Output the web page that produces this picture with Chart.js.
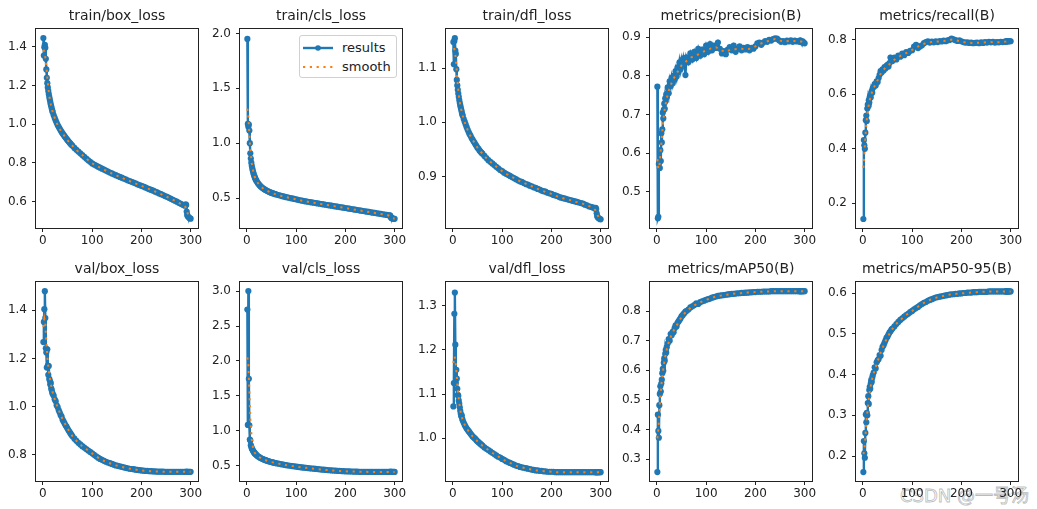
<!DOCTYPE html>
<html>
<head>
<meta charset="utf-8">
<script src="https://cdn.jsdelivr.net/npm/chart.js@4.4.1/dist/chart.umd.min.js"></script>
<style>
  body { margin: 0; background: #fff; width: 1037px; height: 509px; overflow: hidden; position: relative; font-family: "DejaVu Sans", sans-serif; }
  canvas { position: absolute; }
  .legend { position: absolute; box-sizing: border-box; width: 98px; height: 43px; border: 1px solid #d0d0d0; border-radius: 3px; background: rgba(255,255,255,0.85); }
  .legend .row { position: absolute; left: 0; height: 14px; width: 96px; }
  .legend svg { position: absolute; left: 3px; top: 3px; }
  .legend span { position: absolute; left: 42px; top: -1px; font-size: 13px; color: #222; line-height: 16px; }
  .wm { position: absolute; left: 900px; top: 481px; font-size: 18px; font-family: "DejaVu Sans", "Noto Sans CJK SC", sans-serif; color: rgba(255,255,255,0.4); -webkit-text-stroke: 0.8px rgba(140,140,140,0.6); white-space: nowrap; }
</style>
</head>
<body>
<div class="legend" style="left:299px;top:35px">
  <div class="row" style="top:5px">
    <svg width="30" height="8"><line x1="0" y1="4" x2="30" y2="4" stroke="#1f77b4" stroke-width="2.4"/><circle cx="15" cy="4" r="2.8" fill="#1f77b4"/></svg>
    <span>results</span>
  </div>
  <div class="row" style="top:24px">
    <svg width="30" height="8"><line x1="0" y1="4" x2="30" y2="4" stroke="#ff7f0e" stroke-width="2.2" stroke-dasharray="2.2 4.6"/></svg>
    <span>smooth</span>
  </div>
</div>
<div class="wm">CSDN @一号汤</div>
<script>
const FONT = '"DejaVu Sans", sans-serif';

// epochs that carry a results point (dense at the start, sparser later)
const epochs = [
  1,2,3,4,5,6,7,8,9,10,11,12,13,14,15,16,17,18,19,20,
  22,24,26,28,30,32,34,36,38,40,42,44,46,48,50,52,54,56,58,60,
  64,68,72,76,80,84,88,92,96,100,104,108,112,116,120,124,128,132,136,140,
  144,148,152,156,160,164,168,172,176,180,184,188,192,196,200,204,208,212,216,220,
  224,228,232,236,240,244,248,252,256,260,264,268,272,276,280,284,288,
  290,291,292,293,294,296,298,300
];
const smoothEpochs = [1,3,5,7,10,13,16,20,25,30,35,40,50,60,70,80,90,100,110,120,130,140,150,160,170,180,190,200,210,220,230,240,250,260,270,280,285,290,293,296,300];
const xTicks = [0, 100, 200, 300];

const titles = ['train/box_loss', 'train/cls_loss', 'train/dfl_loss', 'metrics/precision(B)', 'metrics/recall(B)',
  'val/box_loss', 'val/cls_loss', 'val/dfl_loss', 'metrics/mAP50(B)', 'metrics/mAP50-95(B)'];

const trainBox = [
  1.445,1.355,1.398,1.410,1.395,1.338,1.283,1.240,1.212,1.190,1.172,1.156,1.141,1.128,1.115,1.103,1.092,1.081,1.071,1.062,
  1.046,1.032,1.019,1.007,0.995,0.986,0.977,0.968,0.960,0.952,0.945,0.938,0.931,0.924,0.917,0.911,0.905,0.899,0.893,0.888,
  0.877,0.867,0.858,0.849,0.840,0.831,0.822,0.813,0.805,0.797,0.791,0.786,0.780,0.775,0.770,0.765,0.760,0.755,0.750,0.745,
  0.741,0.736,0.732,0.727,0.723,0.719,0.715,0.710,0.706,0.702,0.698,0.694,0.689,0.685,0.681,0.677,0.673,0.668,0.664,0.660,
  0.656,0.651,0.647,0.642,0.638,0.633,0.628,0.624,0.619,0.614,0.609,0.604,0.599,0.593,0.588,0.583,0.578,
  0.585,0.582,0.548,0.532,0.524,0.518,0.514,0.511
];
const trainBoxSmooth = [1.385,1.375,1.345,1.300,1.215,1.145,1.103,1.062,1.025,0.995,0.972,0.952,
  0.917,0.888,0.862,0.840,0.818,0.797,0.783,0.770,0.757,0.745,0.734,0.723,0.712,0.702,0.691,0.681,0.670,0.660,0.649,0.638,0.626,0.614,0.601,0.588,
  0.582,0.570,0.545,0.527,0.518];

const trainCls = [
  1.950,1.175,1.150,1.170,1.115,1.000,0.908,0.860,0.822,0.793,0.770,0.750,0.732,0.716,0.702,0.690,0.679,0.669,0.660,0.652,
  0.638,0.626,0.615,0.606,0.598,0.591,0.584,0.578,0.573,0.568,0.563,0.559,0.555,0.551,0.547,0.544,0.541,0.538,0.535,0.532,
  0.527,0.522,0.517,0.512,0.508,0.504,0.500,0.496,0.492,0.488,0.484,0.480,0.476,0.472,0.469,0.466,0.463,0.460,0.457,0.454,
  0.451,0.448,0.445,0.442,0.439,0.436,0.433,0.430,0.427,0.424,0.421,0.418,0.415,0.412,0.409,0.406,0.403,0.400,0.397,0.394,
  0.391,0.388,0.385,0.382,0.379,0.376,0.373,0.370,0.367,0.364,0.361,0.358,0.355,0.352,0.349,0.346,0.343,
  0.342,0.341,0.328,0.320,0.316,0.313,0.312,0.311
];
const trainClsSmooth = [1.315,1.240,1.090,0.945,0.815,0.738,0.692,0.653,0.620,0.598,0.581,0.568,
  0.547,0.532,0.519,0.508,0.498,0.488,0.478,0.469,0.461,0.454,0.446,0.439,0.431,0.424,0.416,0.409,0.401,0.394,0.386,0.379,0.371,0.364,0.356,0.349,
  0.345,0.337,0.325,0.316,0.312];

const trainDfl = [
  1.148,1.107,1.150,1.155,1.132,1.126,1.098,1.078,1.068,1.060,1.053,1.047,1.041,1.036,1.031,1.027,1.023,1.019,1.015,1.012,
  1.006,1.001,0.996,0.991,0.986,0.982,0.978,0.975,0.971,0.968,0.965,0.962,0.959,0.956,0.953,0.951,0.948,0.946,0.944,0.942,
  0.938,0.934,0.930,0.927,0.924,0.921,0.918,0.915,0.912,0.910,0.907,0.905,0.903,0.901,0.899,0.897,0.895,0.893,0.891,0.890,
  0.888,0.886,0.885,0.883,0.882,0.880,0.879,0.877,0.876,0.874,0.873,0.872,0.870,0.869,0.868,0.866,0.865,0.864,0.862,0.861,
  0.860,0.859,0.858,0.857,0.856,0.855,0.854,0.853,0.852,0.851,0.850,0.848,0.847,0.845,0.844,0.843,0.841,
  0.842,0.840,0.832,0.827,0.825,0.823,0.822,0.821
];
const trainDflSmooth = [1.135,1.135,1.125,1.105,1.070,1.043,1.027,1.012,0.998,0.986,0.976,0.968,
  0.953,0.942,0.932,0.924,0.917,0.910,0.904,0.899,0.894,0.890,0.886,0.882,0.878,0.874,0.871,0.868,0.864,0.861,0.858,0.856,0.853,0.851,0.848,0.844,
  0.842,0.837,0.830,0.825,0.822];

const precision = [
  0.772,0.432,0.436,0.572,0.578,0.562,0.608,0.580,0.652,0.628,0.662,0.705,0.690,0.712,0.728,0.715,0.742,0.735,0.752,0.745,
  0.770,0.755,0.786,0.774,0.795,0.781,0.800,0.790,0.812,0.798,0.822,0.810,0.835,0.818,0.840,0.826,0.845,0.832,0.802,0.848,
  0.835,0.858,0.842,0.862,0.846,0.870,0.852,0.868,0.856,0.878,0.862,0.882,0.866,0.878,0.872,0.886,0.870,0.858,0.864,0.856,
  0.868,0.874,0.866,0.878,0.862,0.870,0.876,0.866,0.872,0.868,0.874,0.866,0.872,0.870,0.876,0.884,0.886,0.880,0.886,0.890,
  0.888,0.893,0.891,0.895,0.897,0.896,0.892,0.888,0.890,0.887,0.891,0.889,0.892,0.888,0.891,0.889,0.890,
  0.888,0.892,0.889,0.890,0.887,0.889,0.886,0.884
];
const precisionSmooth = [0.585,0.560,0.565,0.595,0.640,0.685,0.715,0.742,0.765,0.782,0.795,0.806,
  0.827,0.838,0.848,0.853,0.859,0.866,0.871,0.874,0.866,0.862,0.868,0.869,0.870,0.869,0.870,0.876,0.883,0.887,0.892,0.895,0.891,0.889,0.890,0.890,
  0.890,0.889,0.889,0.888,0.886];

const recall = [
  0.142,0.432,0.413,0.400,0.459,0.505,0.522,0.502,0.548,0.562,0.556,0.578,0.570,0.590,0.596,0.588,0.605,0.612,0.606,0.622,
  0.628,0.638,0.632,0.648,0.645,0.660,0.672,0.685,0.680,0.692,0.688,0.700,0.695,0.705,0.708,0.702,0.715,0.735,0.728,0.722,
  0.735,0.728,0.742,0.738,0.750,0.744,0.755,0.752,0.760,0.762,0.775,0.782,0.770,0.776,0.780,0.788,0.792,0.795,0.790,0.794,
  0.791,0.795,0.792,0.796,0.794,0.797,0.795,0.798,0.800,0.805,0.802,0.799,0.796,0.798,0.795,0.792,0.790,0.791,0.789,0.790,
  0.788,0.789,0.790,0.788,0.791,0.789,0.792,0.790,0.793,0.791,0.793,0.790,0.792,0.791,0.793,0.792,0.794,
  0.793,0.795,0.794,0.796,0.795,0.794,0.796,0.795
];
const recallSmooth = [0.330,0.380,0.440,0.492,0.540,0.572,0.595,0.615,0.635,0.652,0.672,0.688,
  0.703,0.722,0.735,0.745,0.753,0.763,0.774,0.782,0.790,0.792,0.794,0.795,0.797,0.801,0.798,0.794,0.790,0.789,0.789,0.790,0.791,0.792,0.791,0.792,
  0.793,0.794,0.795,0.795,0.795];

const valBox = [
  1.268,1.352,1.405,1.480,1.368,1.242,1.225,1.162,1.238,1.170,1.132,1.168,1.115,1.108,1.092,1.098,1.075,1.068,1.058,1.052,
  1.045,1.030,1.022,1.005,0.998,0.985,0.976,0.965,0.958,0.945,0.938,0.930,0.922,0.916,0.908,0.901,0.895,0.888,0.882,0.876,
  0.866,0.857,0.849,0.842,0.835,0.829,0.823,0.817,0.811,0.805,0.799,0.793,0.787,0.782,0.778,0.774,0.770,0.767,0.764,0.761,
  0.758,0.755,0.753,0.751,0.749,0.747,0.745,0.743,0.741,0.740,0.739,0.737,0.736,0.735,0.734,0.733,0.732,0.732,0.731,0.731,
  0.730,0.730,0.729,0.729,0.729,0.729,0.728,0.728,0.728,0.728,0.728,0.728,0.728,0.728,0.728,0.728,0.728,
  0.728,0.728,0.728,0.728,0.728,0.728,0.728,0.728
];
const valBoxSmooth = [1.330,1.365,1.345,1.270,1.185,1.135,1.095,1.058,1.024,0.997,0.971,0.947,
  0.909,0.877,0.853,0.835,0.820,0.805,0.790,0.778,0.768,0.761,0.754,0.749,0.744,0.740,0.737,0.734,0.732,0.731,0.730,0.729,0.728,0.728,0.728,0.728,
  0.728,0.728,0.728,0.728,0.728];

const valCls = [
  2.735,1.085,3.000,1.745,1.080,0.875,0.862,0.795,0.772,0.748,0.735,0.722,0.708,0.698,0.688,0.680,0.672,0.664,0.657,0.650,
  0.638,0.628,0.619,0.611,0.604,0.597,0.591,0.585,0.580,0.575,0.570,0.565,0.561,0.557,0.553,0.549,0.545,0.542,0.539,0.536,
  0.530,0.524,0.519,0.514,0.509,0.504,0.500,0.496,0.492,0.488,0.484,0.480,0.476,0.473,0.470,0.467,0.464,0.461,0.458,0.455,
  0.452,0.449,0.446,0.444,0.441,0.439,0.436,0.434,0.432,0.430,0.428,0.426,0.424,0.423,0.421,0.420,0.419,0.418,0.417,0.416,
  0.415,0.414,0.414,0.413,0.413,0.413,0.412,0.412,0.412,0.412,0.412,0.412,0.412,0.412,0.412,0.412,0.412,
  0.412,0.412,0.412,0.412,0.412,0.412,0.412,0.412
];
const valClsSmooth = [2.050,1.950,1.600,1.180,0.870,0.735,0.685,0.652,0.624,0.604,0.588,0.575,
  0.553,0.536,0.522,0.509,0.498,0.488,0.478,0.470,0.462,0.455,0.448,0.441,0.435,0.430,0.425,0.421,0.418,0.416,0.414,0.413,0.412,0.412,0.412,0.412,
  0.412,0.412,0.412,0.412,0.412];

const valDfl = [
  1.072,1.125,1.282,1.330,1.212,1.125,1.155,1.135,1.112,1.098,1.096,1.085,1.078,1.070,1.062,1.056,1.050,1.052,1.044,1.040,
  1.035,1.030,1.026,1.022,1.019,1.016,1.013,1.010,1.007,1.004,1.002,1.000,0.998,0.995,0.993,0.991,0.989,0.987,0.985,0.983,
  0.979,0.976,0.973,0.970,0.967,0.964,0.961,0.958,0.956,0.953,0.951,0.948,0.946,0.944,0.942,0.940,0.938,0.937,0.935,0.934,
  0.933,0.932,0.931,0.930,0.929,0.928,0.927,0.927,0.926,0.926,0.925,0.925,0.924,0.924,0.924,0.924,0.923,0.923,0.923,0.923,
  0.923,0.923,0.923,0.923,0.923,0.923,0.923,0.923,0.923,0.923,0.923,0.923,0.923,0.923,0.923,0.923,0.923,
  0.923,0.923,0.923,0.923,0.923,0.923,0.923,0.923
];
const valDflSmooth = [1.170,1.185,1.180,1.155,1.110,1.080,1.058,1.041,1.028,1.019,1.011,1.004,
  0.993,0.983,0.975,0.967,0.960,0.953,0.947,0.942,0.937,0.934,0.931,0.929,0.927,0.926,0.925,0.924,0.923,0.923,0.923,0.923,0.923,0.923,0.923,0.923,
  0.923,0.923,0.923,0.923,0.923];

const map50 = [
  0.256,0.450,0.395,0.372,0.482,0.520,0.546,0.528,0.555,0.568,0.590,0.605,0.598,0.625,0.640,0.632,0.655,0.668,0.660,0.678,
  0.690,0.705,0.700,0.722,0.718,0.730,0.728,0.742,0.752,0.748,0.760,0.765,0.770,0.775,0.782,0.785,0.790,0.793,0.798,0.800,
  0.805,0.812,0.816,0.820,0.826,0.824,0.830,0.833,0.835,0.838,0.840,0.842,0.845,0.847,0.849,0.851,0.852,0.853,0.854,0.855,
  0.856,0.857,0.858,0.858,0.859,0.860,0.860,0.861,0.861,0.862,0.862,0.863,0.863,0.864,0.864,0.865,0.865,0.865,0.866,0.866,
  0.866,0.866,0.867,0.867,0.867,0.867,0.867,0.867,0.867,0.867,0.867,0.867,0.867,0.867,0.867,0.867,0.867,
  0.867,0.867,0.867,0.867,0.867,0.867,0.867,0.867
];
const map50Smooth = [0.370,0.400,0.455,0.510,0.565,0.605,0.638,0.670,0.700,0.720,0.737,0.750,
  0.780,0.799,0.813,0.823,0.831,0.838,0.843,0.849,0.852,0.855,0.857,0.859,0.860,0.862,0.863,0.864,0.865,0.866,0.866,0.867,0.867,0.867,0.867,0.867,
  0.867,0.867,0.867,0.867,0.867];

const map5095 = [
  0.161,0.237,0.207,0.196,0.257,0.302,0.283,0.306,0.300,0.330,0.347,0.328,0.362,0.370,0.365,0.378,0.385,0.382,0.392,0.398,
  0.405,0.418,0.415,0.430,0.435,0.438,0.448,0.446,0.460,0.468,0.472,0.478,0.484,0.490,0.493,0.498,0.503,0.506,0.510,0.513,
  0.518,0.524,0.529,0.534,0.538,0.542,0.546,0.549,0.553,0.556,0.560,0.563,0.566,0.570,0.573,0.576,0.578,0.581,0.583,0.585,
  0.587,0.589,0.590,0.591,0.592,0.593,0.594,0.595,0.596,0.597,0.597,0.598,0.598,0.599,0.599,0.600,0.600,0.601,0.601,0.601,
  0.602,0.602,0.602,0.603,0.603,0.603,0.603,0.603,0.604,0.604,0.604,0.604,0.604,0.604,0.604,0.604,0.604,
  0.604,0.604,0.604,0.604,0.604,0.604,0.604,0.604
];
const map5095Smooth = [0.205,0.215,0.245,0.280,0.318,0.350,0.373,0.395,0.415,0.433,0.450,0.466,
  0.492,0.512,0.527,0.538,0.548,0.556,0.565,0.573,0.580,0.585,0.589,0.592,0.595,0.597,0.598,0.599,0.600,0.601,0.602,0.603,0.603,0.604,0.604,0.604,
  0.604,0.604,0.604,0.604,0.604];

const yTickSets = [
  [0.6, 0.8, 1.0, 1.2, 1.4], [0.5, 1.0, 1.5, 2.0], [0.9, 1.0, 1.1], [0.5, 0.6, 0.7, 0.8, 0.9], [0.2, 0.4, 0.6, 0.8],
  [0.8, 1.0, 1.2, 1.4], [0.5, 1.0, 1.5, 2.0, 2.5, 3.0], [1.0, 1.1, 1.2, 1.3], [0.3, 0.4, 0.5, 0.6, 0.7, 0.8], [0.2, 0.3, 0.4, 0.5, 0.6]
];
const yRanges = [
  [0.463, 1.492], [0.227, 2.040], [0.805, 1.172], [0.407, 0.921], [0.109, 0.840],
  [0.690, 1.518], [0.282, 3.130], [0.903, 1.354], [0.226, 0.898], [0.139, 0.627]
];
const results = [trainBox, trainCls, trainDfl, precision, recall, valBox, valCls, valDfl, map50, map5095];
const smooths = [trainBoxSmooth, trainClsSmooth, trainDflSmooth, precisionSmooth, recallSmooth,
  valBoxSmooth, valClsSmooth, valDflSmooth, map50Smooth, map5095Smooth];

// layout of the 2x5 grid (plot area corners in page pixels)
const colLeft = [36, 240, 446, 650, 856];
const rowTop = [29, 282];
const plotW = 162, plotH = 199;
const yAxisW = 36, titleH = 29, xAxisH = 24, padRight = 14;

const frame = {
  id: 'frame',
  afterDraw(chart) {
    const { ctx, chartArea: a } = chart;
    ctx.save();
    ctx.strokeStyle = '#222';
    ctx.lineWidth = 1;
    ctx.strokeRect(Math.round(a.left) - 0.5, Math.round(a.top) - 0.5,
      Math.round(a.right - a.left) + 1, Math.round(a.bottom - a.top) + 1);
    ctx.restore();
  }
};

const tickGrid = { drawOnChartArea: false, drawTicks: true, tickLength: 4, color: '#222', lineWidth: 1 };

titles.forEach((title, i) => {
  const r = Math.floor(i / 5), c = i % 5;
  const cv = document.createElement('canvas');
  cv.width = yAxisW + plotW + padRight;
  cv.height = titleH + plotH + xAxisH;
  cv.style.left = (colLeft[c] - yAxisW) + 'px';
  cv.style.top = (rowTop[r] - titleH) + 'px';
  document.body.appendChild(cv);

  const res = epochs.map((e, k) => ({ x: e, y: results[i][k] }));
  const sm = smoothEpochs.map((e, k) => ({ x: e, y: smooths[i][k] }));

  new Chart(cv, {
    type: 'line',
    data: {
      datasets: [
        { label: 'results', data: res, order: 1, borderColor: '#1f77b4', backgroundColor: '#1f77b4',
          borderWidth: 2.4, pointRadius: 3.1, pointBorderWidth: 0, pointBackgroundColor: '#1f77b4', tension: 0 },
        { label: 'smooth', data: sm, order: 0, borderColor: '#ff7f0e', borderWidth: 2,
          borderDash: [2.2, 4.6], borderCapStyle: 'butt', pointRadius: 0, tension: 0 }
      ]
    },
    options: {
      responsive: false,
      animation: false,
      events: [],
      devicePixelRatio: 1,
      layout: { padding: { left: 0, right: padRight, top: 0, bottom: 0 } },
      plugins: {
        legend: { display: false },
        tooltip: { enabled: false },
        title: { display: true, text: title, color: '#222', fullSize: false,
          font: { family: FONT, size: 14, weight: 'normal', lineHeight: 1.2 },
          padding: { top: 8, bottom: titleH - 8 - 16.8 } }
      },
      scales: {
        x: {
          type: 'linear', min: -13.95, max: 314.95,
          afterBuildTicks: s => { s.ticks = xTicks.map(v => ({ value: v })); },
          afterFit: s => { s.height = xAxisH; },
          ticks: { color: '#222', font: { family: FONT, size: 12 }, padding: 2, maxRotation: 0, autoSkip: false, callback: v => String(v) },
          grid: tickGrid,
          border: { display: false }
        },
        y: {
          type: 'linear', min: yRanges[i][0], max: yRanges[i][1],
          afterBuildTicks: s => { s.ticks = yTickSets[i].map(v => ({ value: v })); },
          afterFit: s => { s.width = yAxisW; },
          ticks: { color: '#222', font: { family: FONT, size: 12 }, padding: 5, autoSkip: false, callback: v => v.toFixed(1) },
          grid: tickGrid,
          border: { display: false }
        }
      }
    },
    plugins: [frame]
  });
});
</script>
</body>
</html>
